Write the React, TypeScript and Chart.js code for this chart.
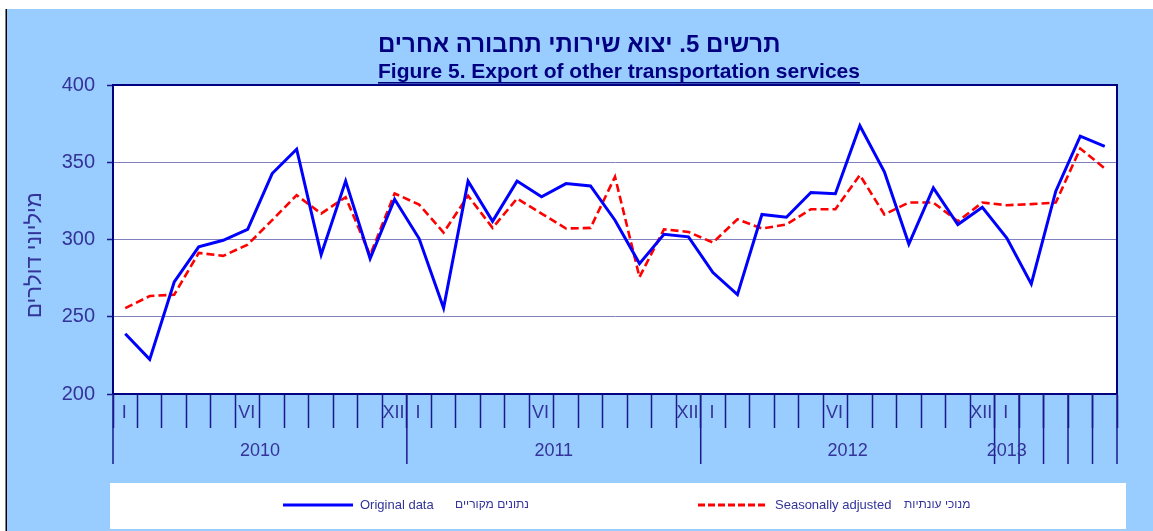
import React, { useEffect, useRef } from 'react';
import { Chart, registerables } from 'chart.js';

Chart.register(...registerables);

// ---- data ----
const categories: string[] = [
  '2010-01', '2010-02', '2010-03', '2010-04', '2010-05', '2010-06', '2010-07', '2010-08', '2010-09', '2010-10', '2010-11', '2010-12',
  '2011-01', '2011-02', '2011-03', '2011-04', '2011-05', '2011-06', '2011-07', '2011-08', '2011-09', '2011-10', '2011-11', '2011-12',
  '2012-01', '2012-02', '2012-03', '2012-04', '2012-05', '2012-06', '2012-07', '2012-08', '2012-09', '2012-10', '2012-11', '2012-12',
  '2013-01', '2013-02', '2013-03', '2013-04', '2013-05',
];

const monthTickLabels: string[] = [
  'I', '', '', '', '', 'VI', '', '', '', '', '', 'XII',
  'I', '', '', '', '', 'VI', '', '', '', '', '', 'XII',
  'I', '', '', '', '', 'VI', '', '', '', '', '', 'XII',
  'I', '', '', '', '',
];

const originalData: number[] = [
  239.0, 222.4, 272.5, 295.2, 299.5, 306.6, 342.7, 358.5, 290.2, 337.8, 287.6, 326.1,
  300.6, 255.6, 337.8, 311.8, 337.8, 327.6, 336.2, 334.7, 312.5, 284.4, 303.4, 301.7,
  278.6, 264.3, 316.2, 314.4, 330.4, 329.6, 373.6, 343.8, 297.1, 333.4, 309.7, 320.9,
  301.0, 271.2, 331.3, 366.9, 360.2,
];

const seasonallyAdjusted: number[] = [
  255.6, 263.4, 264.3, 291.3, 289.4, 296.7, 312.5, 328.7, 316.8, 327.4, 289.8, 329.8,
  322.6, 304.5, 328.3, 307.5, 326.5, 316.8, 307.1, 307.5, 340.6, 275.7, 306.6, 304.9,
  298.0, 313.1, 307.1, 309.7, 319.6, 319.6, 341.7, 316.2, 323.9, 323.9, 311.8, 323.9,
  322.2, 322.9, 323.9, 358.9, 346.0,
];

const yearLabels: string[] = ['2010', '2011', '2012', '2013'];
const yearStartIndex: number[] = [0, 12, 24, 36];
const yearLabelAt: number[] = [5.5, 17.5, 29.5, 36];

const titleHe = 'תרשים 5. יצוא שירותי תחבורה אחרים';
const titleEn = 'Figure 5. Export of other transportation services';
const yAxisTitle = 'מיליוני דולרים';
const legendOriginal = ['Original data', 'נתונים מקוריים'];
const legendSeasonal = ['Seasonally adjusted', 'מנוכי עונתיות'];

// ---- styles ----
const FONT = '"Liberation Sans", Arial, sans-serif';
const BG = '#99CCFF';
const NAVY = '#1a1a8c';
const TEXT = '#333399';
const TITLE = '#000080';
const GRID = '#8080c0';
const BLUE = '#0000FF';
const RED = '#FF0000';

const decorPlugin = {
  id: 'decor',
  beforeDraw(chart: any) {
    const ctx = chart.ctx;
    const { width, height } = chart;
    const ca = chart.chartArea;
    ctx.save();
    ctx.fillStyle = '#ffffff';
    ctx.fillRect(0, 0, width, height);
    ctx.fillStyle = BG;
    ctx.fillRect(7, 9, width - 7, height - 9);
    ctx.fillStyle = '#000000';
    ctx.fillRect(5.5, 9, 1.5, height - 9);
    ctx.fillStyle = '#ffffff';
    ctx.fillRect(ca.left, ca.top, ca.right - ca.left, ca.bottom - ca.top);
    ctx.restore();
  },
  afterDraw(chart: any) {
    const ctx = chart.ctx;
    const ca = chart.chartArea;
    const x = chart.scales.x;
    ctx.save();

    // plot border
    ctx.strokeStyle = '#000080';
    ctx.lineWidth = 2;
    ctx.strokeRect(ca.left, ca.top, ca.right - ca.left, ca.bottom - ca.top);

    // y axis title (rotated)
    ctx.save();
    ctx.translate(35, 255);
    ctx.rotate(-Math.PI / 2);
    ctx.fillStyle = TEXT;
    ctx.font = `22px ${FONT}`;
    ctx.textAlign = 'center';
    ctx.textBaseline = 'middle';
    ctx.fillText(yAxisTitle, 0, 0);
    ctx.restore();

    // month labels
    ctx.fillStyle = TEXT;
    ctx.font = `18px ${FONT}`;
    ctx.textAlign = 'center';
    ctx.textBaseline = 'middle';
    monthTickLabels.forEach((lab, i) => {
      if (!lab) return;
      ctx.fillText(lab, x.getPixelForValue(i) - 1, 413);
    });

    // long separators at year boundaries (and in the last, partial year)
    ctx.strokeStyle = NAVY;
    ctx.lineWidth = 1.5;
    const n = categories.length;
    const lastStart = yearStartIndex[yearStartIndex.length - 1];
    for (let b = 0; b <= n; b++) {
      const isLong = yearStartIndex.includes(b) || b >= lastStart || b === n;
      if (!isLong) continue;
      const px = x.getPixelForValue(b - 0.5);
      ctx.beginPath();
      ctx.moveTo(px, ca.bottom);
      ctx.lineTo(px, 464);
      ctx.stroke();
    }

    // year labels
    ctx.fillStyle = TEXT;
    ctx.font = `18px ${FONT}`;
    yearLabels.forEach((y, i) => {
      ctx.fillText(y, x.getPixelForValue(yearLabelAt[i]), 451);
    });

    // titles
    ctx.fillStyle = TITLE;
    ctx.textAlign = 'left';
    ctx.font = `bold 24px ${FONT}`;
    ctx.fillText(titleHe, 378, 45);
    ctx.font = `bold 21px ${FONT}`;
    ctx.fillText(titleEn, 378, 72);
    const w = ctx.measureText(titleEn).width;
    ctx.fillRect(378, 82, w, 1.6);

    // legend box
    ctx.fillStyle = '#ffffff';
    ctx.fillRect(110, 483, 1016, 46);
    const ly = 505;
    ctx.lineWidth = 3;
    ctx.strokeStyle = BLUE;
    ctx.setLineDash([]);
    ctx.beginPath();
    ctx.moveTo(283, ly);
    ctx.lineTo(353, ly);
    ctx.stroke();
    ctx.strokeStyle = RED;
    ctx.setLineDash([7, 3]);
    ctx.beginPath();
    ctx.moveTo(698, ly);
    ctx.lineTo(767, ly);
    ctx.stroke();
    ctx.setLineDash([]);
    ctx.fillStyle = TEXT;
    ctx.textAlign = 'left';
    ctx.font = `13px ${FONT}`;
    ctx.fillText(legendOriginal[0], 360, ly);
    ctx.fillText(legendSeasonal[0], 775, ly);
    ctx.font = `12px ${FONT}`;
    ctx.fillText(legendOriginal[1], 455, ly);
    ctx.fillText(legendSeasonal[1], 904, ly);

    ctx.restore();
  },
};

export default function App() {
  const ref = useRef<HTMLCanvasElement | null>(null);

  useEffect(() => {
    if (!ref.current) return;
    const chart = new Chart(ref.current, {
      type: 'line',
      data: {
        labels: categories,
        datasets: [
          {
            label: 'Original data',
            data: originalData,
            borderColor: BLUE,
            backgroundColor: BLUE,
            borderWidth: 3,
            pointRadius: 0,
            tension: 0,
            fill: false,
          },
          {
            label: 'Seasonally adjusted',
            data: seasonallyAdjusted,
            borderColor: RED,
            backgroundColor: RED,
            borderWidth: 2.6,
            borderDash: [8, 4],
            pointRadius: 0,
            tension: 0,
            fill: false,
          },
        ],
      },
      options: {
        responsive: false,
        animation: false,
        layout: { padding: { top: 85, right: 36, left: 0, bottom: 0 } },
        plugins: {
          legend: { display: false },
          title: { display: false },
          tooltip: { enabled: false },
        },
        scales: {
          x: {
            type: 'category',
            offset: true,
            grid: {
              offset: true,
              drawOnChartArea: false,
              drawTicks: true,
              tickLength: 34,
              tickColor: NAVY,
              tickWidth: 1.5,
              color: NAVY,
            },
            border: { display: true, color: '#000080', width: 2 },
            ticks: { display: false },
            afterFit: (s: any) => {
              s.height = 137;
            },
          },
          y: {
            min: 200,
            max: 400,
            ticks: {
              stepSize: 50,
              color: TEXT,
              font: { family: FONT, size: 20 },
              padding: 12,
            },
            grid: {
              color: GRID,
              lineWidth: 1,
              tickLength: 6,
              tickColor: NAVY,
              tickWidth: 1.5,
            },
            border: { display: true, color: '#000080', width: 2 },
            title: { display: false },
            afterFit: (s: any) => {
              s.width = 113;
            },
          },
        },
      },
      plugins: [decorPlugin],
    });
    return () => chart.destroy();
  }, []);

  return (
    <div style={{ position: 'fixed', left: 0, top: 0, width: 1153, height: 531, background: '#fff' }}>
      <canvas ref={ref} width={1153} height={531} style={{ display: 'block', width: 1153, height: 531 }} />
    </div>
  );
}
